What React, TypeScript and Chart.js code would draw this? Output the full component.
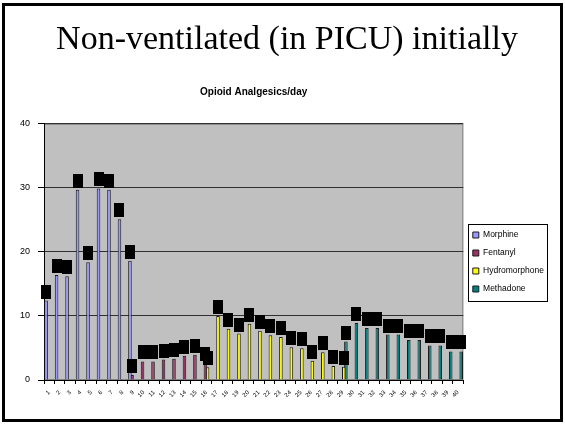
import React, { useEffect, useRef } from 'react';
import { Chart, registerables } from 'chart.js';

Chart.register(...registerables);

const categories = [
  '1', '2', '3', '4', '5', '6', '7', '8', '9', '10',
  '11', '12', '13', '14', '15', '16', '17', '18', '19', '20',
  '21', '22', '23', '24', '25', '26', '27', '28', '29', '30',
  '31', '32', '33', '34', '35', '36', '37', '38', '39', '40',
];

const morphine = [
  12.4, 16.4, 16.2, 29.7, 18.4, 29.9, 29.7, 25.1, 18.6, null,
  null, null, null, null, null, null, null, null, null, null,
  null, null, null, null, null, null, null, null, null, null,
  null, null, null, null, null, null, null, null, null, null,
];

const fentanyl = [
  null, null, null, null, null, null, null, null, 0.8, 2.9,
  2.9, 3.2, 3.3, 3.8, 3.95, 2.6, null, null, null, null,
  null, null, null, null, null, null, null, null, null, null,
  null, null, null, null, null, null, null, null, null, null,
];

const hydromorphone = [
  null, null, null, null, null, null, null, null, null, null,
  null, null, null, null, null, 2.0, 10.0, 8.0, 7.25, 8.8,
  7.7, 7.0, 6.7, 5.1, 4.95, 3.0, 4.35, 2.2, 2.05, null,
  null, null, null, null, null, null, null, null, null, null,
];

const methadone = [
  null, null, null, null, null, null, null, null, null, null,
  null, null, null, null, null, null, null, null, null, null,
  null, null, null, null, null, null, null, null, 6.0, 8.9,
  8.1, 8.1, 7.1, 7.1, 6.25, 6.25, 5.4, 5.4, 4.45, 4.45,
];

const seriesNames = ['Morphine', 'Fentanyl', 'Hydromorphone', 'Methadone'];
const seriesColors = ['#9999FF', '#993366', '#FFFF00', '#008080'];
const yTicks = [0, 10, 20, 30, 40];

const slidePlugin = {
  id: 'slideDecor',
  beforeDraw(chart: any) {
    const { ctx, chartArea } = chart;
    ctx.save();
    ctx.fillStyle = '#ffffff';
    ctx.fillRect(0, 0, chart.width, chart.height);
    ctx.fillStyle = '#C0C0C0';
    ctx.fillRect(chartArea.left, chartArea.top, chartArea.right - chartArea.left, chartArea.bottom - chartArea.top);
    ctx.strokeStyle = '#808080';
    ctx.lineWidth = 1;
    ctx.strokeRect(chartArea.left + 0.5, chartArea.top + 0.5, chartArea.right - chartArea.left - 1, chartArea.bottom - chartArea.top - 1);
    ctx.restore();
  },
  afterDatasetsDraw(chart: any) {
    const { ctx } = chart;
    ctx.save();
    ctx.fillStyle = '#000000';
    chart.data.datasets.forEach((ds: any, i: number) => {
      const meta = chart.getDatasetMeta(i);
      meta.data.forEach((el: any, j: number) => {
        if (ds.data[j] == null) return;
        ctx.fillRect(Math.round(el.x - 5), Math.round(el.y - 16), 10, 14);
      });
    });
    ctx.restore();
  },
  afterDraw(chart: any) {
    const { ctx } = chart;
    ctx.save();
    const lg = chart.legend;
    if (lg && lg.legendHitBoxes && lg.legendHitBoxes.length) {
      const hb = lg.legendHitBoxes;
      let l = Infinity, t = Infinity, r = -Infinity, b = -Infinity;
      hb.forEach((h: any) => {
        l = Math.min(l, h.left);
        t = Math.min(t, h.top);
        r = Math.max(r, h.left + h.width);
        b = Math.max(b, h.top + h.height);
      });
      ctx.strokeStyle = '#000000';
      ctx.lineWidth = 1;
      ctx.strokeRect(Math.round(l - 5) + 0.5, Math.round(t - 7) + 0.5, Math.round(r - l + 8), Math.round(b - t + 14));
    }
    ctx.strokeStyle = '#000000';
    ctx.lineWidth = 3;
    ctx.strokeRect(3.5, 4.5, chart.width - 7, chart.height - 8);
    ctx.restore();
  },
};

export default function App() {
  const ref = useRef<HTMLCanvasElement | null>(null);
  useEffect(() => {
    document.body.style.margin = '0';
    const values = [morphine, fentanyl, hydromorphone, methadone];
    const chart = new Chart(ref.current as HTMLCanvasElement, {
      type: 'bar',
      data: {
        labels: categories,
        datasets: seriesNames.map((name, i) => ({
          label: name,
          data: values[i],
          backgroundColor: seriesColors[i],
          borderColor: '#1a1a1a',
          borderWidth: 1,
          categoryPercentage: 0.8,
          barPercentage: 1.7,
        })),
      },
      options: {
        responsive: false,
        animation: false,
        layout: { padding: { top: 0, left: 20, right: 11, bottom: 0 } },
        plugins: {
          title: {
            display: true,
            text: 'Non-ventilated (in PICU) initially',
            color: '#000000',
            font: { family: 'Liberation Serif', size: 34, weight: 'normal', lineHeight: 1.2 },
            padding: { top: 20, bottom: 10 },
          },
          subtitle: {
            display: true,
            fullSize: false,
            text: 'Opioid Analgesics/day',
            color: '#000000',
            font: { family: 'Liberation Sans', size: 10, weight: 'bold', lineHeight: 1.2 },
            padding: { top: 15, bottom: 26 },
          },
          legend: {
            display: true,
            position: 'right',
            title: { display: true, text: ' ', padding: { top: 90, bottom: 0 }, font: { size: 10, lineHeight: 1 } },
            labels: {
              color: '#000000',
              font: { family: 'Liberation Sans', size: 8.5 },
              boxWidth: 6,
              boxHeight: 6,
              padding: 9.5,
            },
          },
          tooltip: { enabled: false },
        },
        scales: {
          x: {
            offset: true,
            grid: {
              display: true,
              offset: true,
              drawOnChartArea: false,
              drawTicks: true,
              tickLength: 4,
              tickColor: '#000000',
            },
            border: { display: true, color: '#000000', width: 1 },
            ticks: {
              autoSkip: false,
              minRotation: 45,
              maxRotation: 45,
              color: '#000000',
              font: { family: 'Liberation Sans', size: 6 },
              padding: 5,
            },
            afterFit: (scale: any) => {
              scale.height = 44;
            },
          },
          y: {
            min: 0,
            max: 40,
            afterBuildTicks: (scale: any) => {
              scale.ticks = yTicks.map((v) => ({ value: v }));
            },
            grid: {
              color: '#303030',
              tickColor: '#000000',
              tickLength: 6,
              drawTicks: true,
            },
            border: { display: true, color: '#000000', width: 1 },
            ticks: {
              color: '#000000',
              font: { family: 'Liberation Sans', size: 9 },
              padding: 8,
            },
            afterFit: (scale: any) => {
              scale.width = 24;
            },
          },
        },
      },
      plugins: [slidePlugin],
    } as any);
    return () => chart.destroy();
  }, []);
  return (
    <div style={{ width: 565, height: 424 }}>
      <canvas ref={ref} width={565} height={424} style={{ display: 'block' }} />
    </div>
  );
}
